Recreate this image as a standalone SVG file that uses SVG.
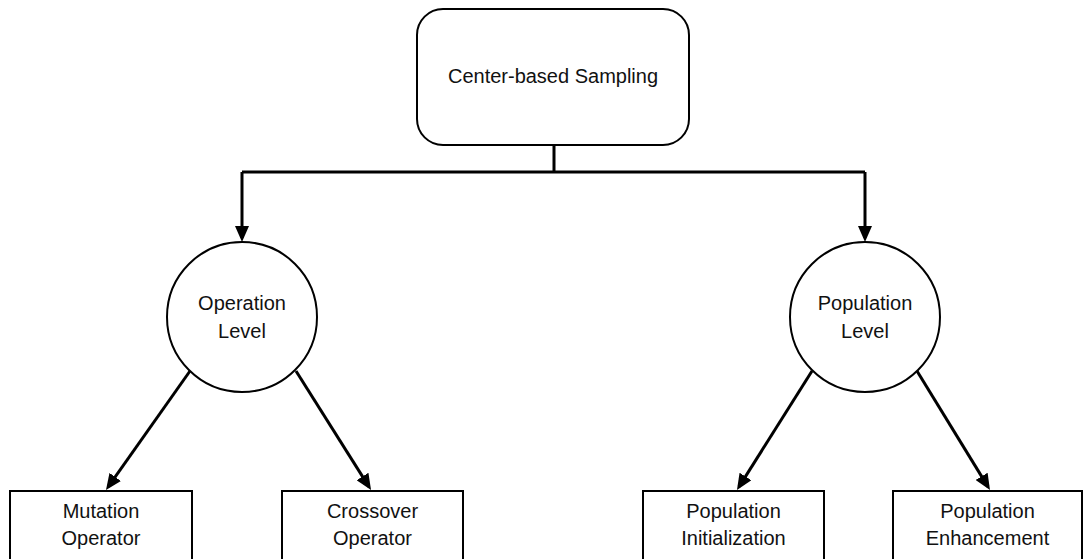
<svg xmlns="http://www.w3.org/2000/svg" width="1084" height="559" viewBox="0 0 1084 559">
<style>
.shape{fill:#fff;stroke:#000;stroke-width:2}
.conn{fill:none;stroke:#000;stroke-width:3}
text{font-family:"Liberation Sans",Arial,sans-serif;font-size:20px;fill:#111;text-anchor:middle}
</style>
<defs>
<marker id="arr" markerUnits="userSpaceOnUse" markerWidth="16" markerHeight="14" refX="12" refY="7" orient="auto">
<path d="M0,0 L16,7 L0,14 z" fill="#000"/>
</marker>
</defs>
<rect width="1084" height="559" fill="#fff"/>
<g id="connectors">
<path class="conn" d="M554,145 V172 M242,172 H865"/>
<path class="conn" d="M242,172 V238" marker-end="url(#arr)"/>
<path class="conn" d="M865,172 V238" marker-end="url(#arr)"/>
<path class="conn" d="M190,371 L108.3,486.7" marker-end="url(#arr)"/>
<path class="conn" d="M296,371 L368.9,486.6" marker-end="url(#arr)"/>
<path class="conn" d="M812,371 L739.1,486.6" marker-end="url(#arr)"/>
<path class="conn" d="M917,371 L987.9,486.6" marker-end="url(#arr)"/>
</g>
<g id="center-based-sampling">
<rect class="shape" x="417" y="9" width="272" height="136" rx="26" ry="26"/>
<text x="553" y="83">Center-based Sampling</text>
</g>
<g id="operation-level">
<circle class="shape" cx="242" cy="317" r="75"/>
<text x="242" y="310">Operation</text>
<text x="242" y="338">Level</text>
</g>
<g id="population-level">
<circle class="shape" cx="865" cy="317" r="75"/>
<text x="865" y="310">Population</text>
<text x="865" y="338">Level</text>
</g>
<g id="mutation-operator">
<rect class="shape" x="10" y="491" width="182" height="80"/>
<text x="101" y="518">Mutation</text>
<text x="101" y="545">Operator</text>
</g>
<g id="crossover-operator">
<rect class="shape" x="282" y="491" width="181" height="80"/>
<text x="372.5" y="518">Crossover</text>
<text x="372.5" y="545">Operator</text>
</g>
<g id="population-initialization">
<rect class="shape" x="643" y="491" width="181" height="80"/>
<text x="733.5" y="518">Population</text>
<text x="733.5" y="545">Initialization</text>
</g>
<g id="population-enhancement">
<rect class="shape" x="893" y="491" width="189" height="80"/>
<text x="987.5" y="518">Population</text>
<text x="987.5" y="545">Enhancement</text>
</g>
</svg>
